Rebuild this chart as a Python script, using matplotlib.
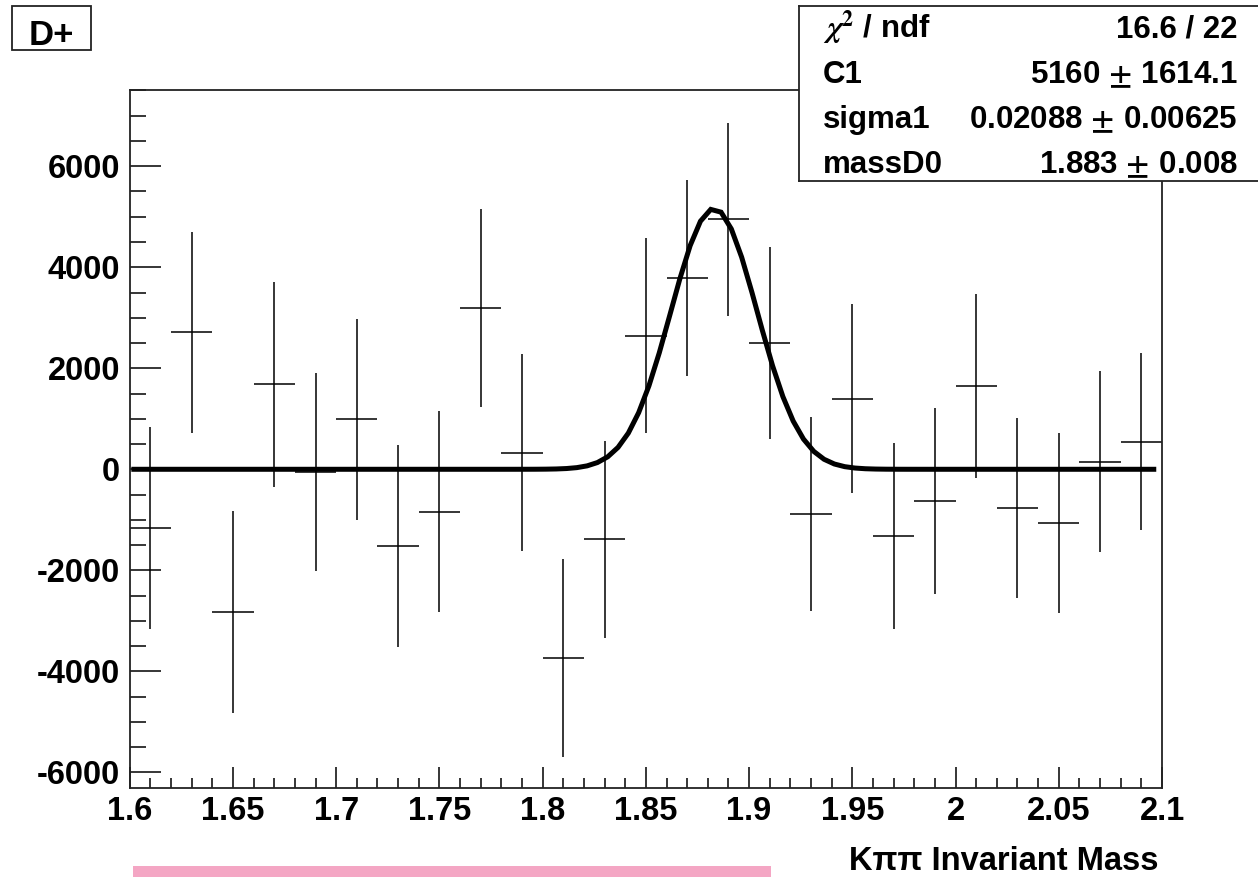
import numpy as np
import matplotlib
matplotlib.use("Agg")
from matplotlib import pyplot as plt
from matplotlib.patches import Rectangle
from matplotlib.ticker import MultipleLocator

plt.rcParams['font.family'] = ['Liberation Sans', 'DejaVu Sans']
plt.rcParams['font.weight'] = 'bold'
plt.rcParams['mathtext.fontset'] = 'stix'
plt.rcParams['axes.unicode_minus'] = False

# histogram bins (centers), contents and errors
mass = [1.61, 1.63, 1.65, 1.67, 1.69, 1.71, 1.73, 1.75, 1.77, 1.79,
        1.81, 1.83, 1.85, 1.87, 1.89, 1.91, 1.93, 1.95, 1.97, 1.99,
        2.01, 2.03, 2.05, 2.07, 2.09]
counts = [-1170, 2710, -2820, 1680, -50, 990, -1510, -840, 3190, 330,
          -3740, -1390, 2640, 3780, 4950, 2500, -880, 1400, -1320, -620,
          1650, -770, -1070, 150, 550]
errors = [2000, 1990, 2000, 2030, 1960, 1990, 2000, 1990, 1960, 1950,
          1960, 1950, 1930, 1940, 1910, 1900, 1920, 1870, 1850, 1840,
          1820, 1780, 1780, 1790, 1750]
bin_half = 0.01

# fit result (gaussian)
C1, C1_err = 5160, 1614.1
sigma1, sigma1_err = 0.02088, 0.00625
massD0, massD0_err = 1.883, 0.008
chi2, ndf = 16.6, 22

fig = plt.figure(figsize=(12.58, 8.77), dpi=100)
ax = fig.add_axes([0.1031, 0.1015, 0.8206, 0.7959])

ax.errorbar(mass, counts, xerr=bin_half, yerr=errors, fmt='none',
            ecolor='black', elinewidth=1.1, capsize=0)

xf = np.linspace(1.602, 2.096, 100)
yf = C1 * np.exp(-0.5 * ((xf - massD0) / sigma1) ** 2)
ax.plot(xf, yf, color='black', linewidth=3.6, solid_joinstyle='miter')

ax.set_xlim(1.6, 2.1)
ax.set_ylim(-6310, 7510)
ax.xaxis.set_minor_locator(MultipleLocator(0.01))
ax.yaxis.set_major_locator(MultipleLocator(2000))
ax.yaxis.set_minor_locator(MultipleLocator(500))
ax.set_xticks(np.arange(1.6, 2.1001, 0.05))
ax.set_xticklabels(['1.6', '1.65', '1.7', '1.75', '1.8', '1.85', '1.9',
                    '1.95', '2', '2.05', '2.1'])
ax.tick_params(axis='both', which='both', direction='in', top=False,
               right=False, labelsize=23.5, width=1.1, color='black')
ax.tick_params(axis='y', which='major', length=22.3, pad=7)
ax.tick_params(axis='y', which='minor', length=11.2)
ax.tick_params(axis='x', which='major', length=15, pad=6)
ax.tick_params(axis='x', which='minor', length=7.5)
for lab in ax.get_xticklabels() + ax.get_yticklabels():
    lab.set_fontweight('bold')
for sp in ax.spines.values():
    sp.set_linewidth(1.3)
    sp.set_color('#222222')

fig.text(0.9213, 0.008, "K\u03c0\u03c0 Invariant Mass", ha='right',
         va='baseline', fontsize=23.5, fontweight='bold')

# title box
fig.add_artist(Rectangle((0.0095, 0.943), 0.0628, 0.0502,
                         transform=fig.transFigure, facecolor='white',
                         edgecolor='#222222', linewidth=1.3))
fig.text(0.0405, 0.9487, "D+", ha='center', va='baseline',
         fontsize=25, fontweight='bold')

# stats box
sax = fig.add_axes([0.6351, 0.7936, 0.38, 0.1996], zorder=5)
sax.set_facecolor('white')
sax.set_xticks([])
sax.set_yticks([])
for sp in sax.spines.values():
    sp.set_linewidth(1.3)
    sp.set_color('#222222')

names = [r"$\chi^{2}$ / ndf", "C1", "sigma1", "massD0"]
values = ["%.1f / %d" % (chi2, ndf),
          "%d $\\pm$ %.1f" % (C1, C1_err),
          "%.5f $\\pm$ %.5f" % (sigma1, sigma1_err),
          "%.3f $\\pm$ %.3f" % (massD0, massD0_err)]
baselines = [38, 83, 128, 173]
for nm, val, yb in zip(names, values, baselines):
    yfig = 1 - yb / 877
    fig.text(823 / 1258, yfig, nm, ha='left', va='baseline', fontsize=22.5,
             fontweight='bold', zorder=6)
    fig.text(1238 / 1258, yfig, val, ha='right', va='baseline', fontsize=22.5,
             fontweight='bold', zorder=6)

# pink strip at the bottom
fig.add_artist(Rectangle((0.1057, 0.0), 0.5072, 0.0125,
                         transform=fig.transFigure, facecolor='#f4a6c4',
                         edgecolor='none'))

plt.savefig('out.png', dpi=100)
